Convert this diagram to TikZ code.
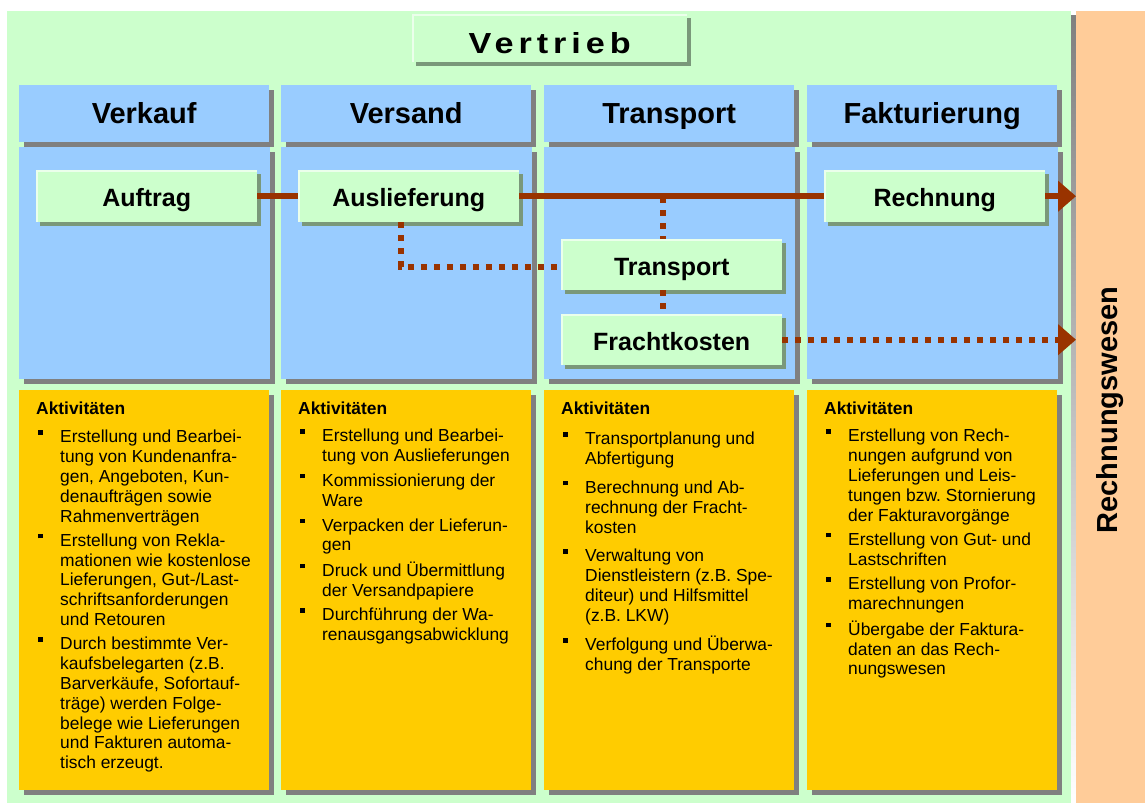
\documentclass[tikz,border=0pt]{standalone}
\usepackage{fontspec}
\setmainfont{Liberation Sans}
\newfontfamily\wideface[FakeStretch=1.18, LetterSpace=17]{Liberation Sans}
\usepackage{tikz}
\usetikzlibrary{shadows,arrows.meta}
\definecolor{bggreen}{RGB}{204,255,204}
\definecolor{lblue}{RGB}{153,204,255}
\definecolor{akyellow}{RGB}{255,204,0}
\definecolor{rworange}{RGB}{255,204,153}
\definecolor{flowred}{RGB}{153,51,0}
\definecolor{shade}{RGB}{128,128,128}
\definecolor{gshade}{RGB}{122,152,122}
\definecolor{hilite}{RGB}{235,255,235}
\newcommand{\aktbullet}{\hspace*{2pt}\rule[8pt]{4.5pt}{4.5pt}}
\frenchspacing

\begin{document}
\begin{tikzpicture}[x=1pt,y=-1pt,
	header/.style={anchor=north west, inner sep=0pt, fill=lblue, minimum width=250pt, minimum height=57pt, text height=25pt, text depth=6pt, font=\fontsize{29}{34}\selectfont\bfseries, drop shadow={shadow xshift=4.5pt, shadow yshift=-4.5pt, fill=shade, opacity=1}},
	lane/.style={anchor=north west, inner sep=0pt, fill=lblue, minimum width=251pt, minimum height=232pt, drop shadow={shadow xshift=4.5pt, shadow yshift=-4.5pt, fill=shade, opacity=1}},
	aktbox/.style={anchor=north west, inner sep=0pt, fill=akyellow, minimum width=250pt, minimum height=400pt, drop shadow={shadow xshift=5pt, shadow yshift=-5pt, fill=shade, opacity=1}},
	akttext/.style={anchor=north west, inner sep=0pt, font=\fontsize{17.4}{19.8}\selectfont},
	proc/.style={anchor=north west, inner sep=0pt, fill=bggreen, minimum width=221pt, minimum height=52pt, text height=26pt, text depth=5pt, font=\fontsize{25}{30}\selectfont\bfseries, drop shadow={shadow xshift=3.5pt, shadow yshift=-3.5pt, fill=gshade, opacity=1}, path picture={\draw[hilite, line width=4pt] (path picture bounding box.south west) |- (path picture bounding box.north east);}},
	mainflow/.style={flowred, line width=6pt},
	dotflow/.style={flowred, line width=6pt, dash pattern=on 6pt off 7pt},
	headtip/.style={-{Triangle[length=18pt, width=30pt]}}
]
	\fill[white] (0,0) rectangle (1145,803);
	\useasboundingbox (0,0) rectangle (1145,803);
	% background panels
	\fill[bggreen] (7,11) rectangle (1071,803);
	\fill[shade] (1071,15) rectangle (1076,803);
	\node[fill=rworange, inner sep=0pt, minimum width=69pt, minimum height=792pt, anchor=north west] (rw) at (1076,11) {};
	\node[rotate=90, font=\fontsize{29}{34}\selectfont\bfseries] (rwtext) at (1110,410) {Rechnungswesen};
	\node[proc, minimum width=275pt, minimum height=48pt, text height=33pt, text depth=3pt, font=\fontsize{29}{34}\wideface\bfseries] (vertrieb) at (412,14) {Vertrieb};
	
	% column heads
	\node[header] (verkauf) at (19,85) {Verkauf};
	\node[header] (versand) at (281,85) {Versand};
	\node[header] (transp) at (544,85) {Transport};
	\node[header] (faktura) at (807,85) {Fakturierung};
	% lanes
	\node[lane] (lane1) at (19,147) {};
	\node[lane] (lane2) at (281,147) {};
	\node[lane] (lane3) at (544,147) {};
	\node[lane] (lane4) at (807,147) {};
	% activity boxes
	\node[aktbox] (akt1) at (19,390) {};
	\node[aktbox] (akt2) at (281,390) {};
	\node[aktbox] (akt3) at (544,390) {};
	\node[aktbox] (akt4) at (807,390) {};
	
	% process steps
	\node[proc] (auftrag) at (36,170) {Auftrag};
	\node[proc] (ausl) at (298,170) {Auslieferung};
	\node[proc] (rechnung) at (824,170) {Rechnung};
	\node[proc, minimum height=51pt] (transport) at (561,239) {Transport};
	\node[proc, minimum height=51pt] (fracht) at (561,314) {Frachtkosten};
	\coordinate (split) at (663,197);
	
	% flow
	\draw[mainflow] (auftrag) -- (ausl);
	\draw[mainflow] (ausl) -- (rechnung);
	\draw[mainflow, headtip] (rechnung) -- (rechnung -| rw.west);
	\draw[dotflow] ([xshift=-8pt]ausl.south) |- ([yshift=-2.5pt]transport.west);
	\draw[dotflow] (split) -- (split |- transport.north);
	\draw[dotflow] (split |- transport.south) -- (split |- fracht.north);
	\draw[dotflow, headtip] (fracht) -- (fracht -| rw.west);
	
	% activities
	\node[akttext] (akt1text) at ([xshift=17pt, yshift=-10pt]akt1.north west) {\begin{tabular}{@{}p{24pt}@{}l@{}}
		\multicolumn{2}{@{}l@{}}{\bfseries Aktivitäten}\\[9pt]
		\aktbullet & Erstellung und Bearbei-\\
		& tung von Kundenanfra-\\
		& gen, Angeboten, Kun-\\
		& denaufträgen sowie\\
		& Rahmenverträgen\\[4.5pt]
		\aktbullet & Erstellung von Rekla-\\
		& mationen wie kostenlose\\
		& Lieferungen, Gut-/Last-\\
		& schriftsanforderungen\\
		& und Retouren\\[4.5pt]
		\aktbullet & Durch bestimmte Ver-\\
		& kaufsbelegarten (z.B.\\
		& Barverkäufe, Sofortauf-\\
		& träge) werden Folge-\\
		& belege wie Lieferungen\\
		& und Fakturen automa-\\
		& tisch erzeugt.
	\end{tabular}};
	\node[akttext] (akt2text) at ([xshift=17pt, yshift=-10pt]akt2.north west) {\begin{tabular}{@{}p{24pt}@{}l@{}}
		\multicolumn{2}{@{}l@{}}{\bfseries Aktivitäten}\\[8pt]
		\aktbullet & Erstellung und Bearbei-\\
		& tung von Auslieferungen\\[5pt]
		\aktbullet & Kommissionierung der\\
		& Ware\\[5pt]
		\aktbullet & Verpacken der Lieferun-\\
		& gen\\[5pt]
		\aktbullet & Druck und Übermittlung\\
		& der Versandpapiere\\[5pt]
		\aktbullet & Durchführung der Wa-\\
		& renausgangsabwicklung
	\end{tabular}};
	\node[akttext] (akt3text) at ([xshift=17pt, yshift=-10pt]akt3.north west) {\begin{tabular}{@{}p{24pt}@{}l@{}}
		\multicolumn{2}{@{}l@{}}{\bfseries Aktivitäten}\\[11pt]
		\aktbullet & Transportplanung und\\
		& Abfertigung\\[9pt]
		\aktbullet & Berechnung und Ab-\\
		& rechnung der Fracht-\\
		& kosten\\[9pt]
		\aktbullet & Verwaltung von\\
		& Dienstleistern (z.B. Spe-\\
		& diteur) und Hilfsmittel\\
		& (z.B. LKW)\\[9pt]
		\aktbullet & Verfolgung und Überwa-\\
		& chung der Transporte
	\end{tabular}};
	\node[akttext] (akt4text) at ([xshift=17pt, yshift=-10pt]akt4.north west) {\begin{tabular}{@{}p{24pt}@{}l@{}}
		\multicolumn{2}{@{}l@{}}{\bfseries Aktivitäten}\\[8pt]
		\aktbullet & Erstellung von Rech-\\
		& nungen aufgrund von\\
		& Lieferungen und Leis-\\
		& tungen bzw. Stornierung\\
		& der Fakturavorgänge\\[4.5pt]
		\aktbullet & Erstellung von Gut- und\\
		& Lastschriften\\[5pt]
		\aktbullet & Erstellung von Profor-\\
		& marechnungen\\[5pt]
		\aktbullet & Übergabe der Faktura-\\
		& daten an das Rech-\\
		& nungswesen
	\end{tabular}};
\end{tikzpicture}
\end{document}
